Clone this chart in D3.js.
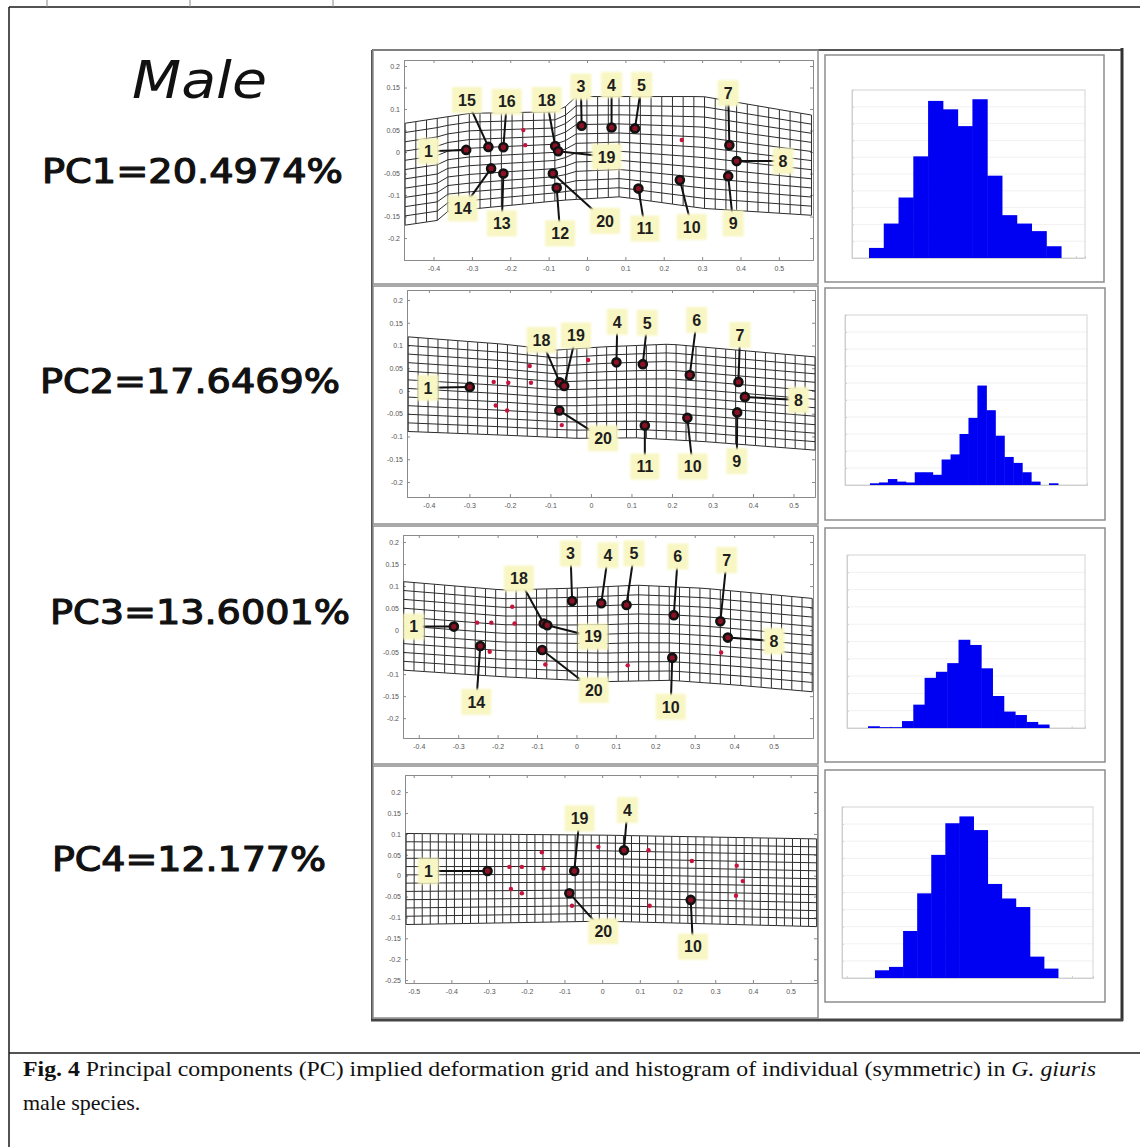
<!DOCTYPE html>
<html>
<head>
<meta charset="utf-8">
<script src="https://cdn.jsdelivr.net/npm/d3@7"></script>
<style>
  html, body { margin: 0; padding: 0; background: #fff; }
  svg { display: block; }
</style>
</head>
<body>
<div id="container"></div>
<script>
const WIDTH = 1140, HEIGHT = 1147;

const TITLE = "Male";
const PC_LABELS = ["PC1=20.4974%", "PC2=17.6469%", "PC3=13.6001%", "PC4=12.177%"];

// axis ticks of the deformation grid panels
const GRID_X_TICKS = [
  [-0.4, -0.3, -0.2, -0.1, 0, 0.1, 0.2, 0.3, 0.4, 0.5],
  [-0.4, -0.3, -0.2, -0.1, 0, 0.1, 0.2, 0.3, 0.4, 0.5],
  [-0.4, -0.3, -0.2, -0.1, 0, 0.1, 0.2, 0.3, 0.4, 0.5],
  [-0.5, -0.4, -0.3, -0.2, -0.1, 0, 0.1, 0.2, 0.3, 0.4, 0.5]
];
const GRID_Y_TICKS = [
  [0.2, 0.15, 0.1, 0.05, 0, -0.05, -0.1, -0.15, -0.2],
  [0.2, 0.15, 0.1, 0.05, 0, -0.05, -0.1, -0.15, -0.2],
  [0.2, 0.15, 0.1, 0.05, 0, -0.05, -0.1, -0.15, -0.2],
  [0.2, 0.15, 0.1, 0.05, 0, -0.05, -0.1, -0.15, -0.2, -0.25]
];

// outline of each warped grid: [x, y] along top and bottom edge
const PC1_TOP = [[-0.474, 0.067], [-0.305, 0.090], [-0.062, 0.094], [-0.044, 0.129], [0.303, 0.129], [0.585, 0.086]];
const PC1_BOTTOM = [[-0.474, -0.170], [-0.383, -0.158], [-0.375, -0.139], [-0.062, -0.112], [0.086, -0.104], [0.303, -0.131], [0.585, -0.147]];
const PC2_TOP = [[-0.451, 0.119], [-0.217, 0.103], [-0.085, 0.090], [0.030, 0.097], [0.195, 0.103], [0.360, 0.090], [0.553, 0.075]];
const PC2_BOTTOM = [[-0.451, -0.089], [-0.217, -0.097], [-0.035, -0.104], [0.113, -0.103], [0.277, -0.111], [0.553, -0.130]];
const PC3_TOP = [[-0.438, 0.110], [-0.185, 0.091], [-0.015, 0.095], [0.154, 0.102], [0.323, 0.095], [0.598, 0.072]];
const PC3_BOTTOM = [[-0.438, -0.091], [-0.185, -0.106], [0.069, -0.117], [0.239, -0.114], [0.408, -0.125], [0.598, -0.140]];
const PC4_TOP = [[-0.520, 0.101], [0.003, 0.097], [0.569, 0.088]];
const PC4_BOTTOM = [[-0.520, -0.117], [0.003, -0.109], [0.569, -0.122]];

// labelled landmarks: position (x, y) and label position (lx, ly)
const PC1_MARKS = [
  {id: "1", x: -0.315, y: 0.005, lx: -0.413, ly: 0.002},
  {id: "15", x: -0.257, y: 0.012, lx: -0.313, ly: 0.121},
  {id: "16", x: -0.218, y: 0.011, lx: -0.209, ly: 0.117},
  {id: "18", x: -0.083, y: 0.014, lx: -0.105, ly: 0.121},
  {id: "19", x: -0.075, y: 0.002, lx: 0.051, ly: -0.011},
  {id: "3", x: -0.014, y: 0.061, lx: -0.016, ly: 0.152},
  {id: "4", x: 0.064, y: 0.057, lx: 0.064, ly: 0.156},
  {id: "5", x: 0.125, y: 0.055, lx: 0.142, ly: 0.156},
  {id: "7", x: 0.371, y: 0.016, lx: 0.368, ly: 0.137},
  {id: "8", x: 0.390, y: -0.021, lx: 0.511, ly: -0.021},
  {id: "9", x: 0.368, y: -0.056, lx: 0.381, ly: -0.166},
  {id: "10", x: 0.242, y: -0.065, lx: 0.273, ly: -0.174},
  {id: "11", x: 0.134, y: -0.085, lx: 0.151, ly: -0.178},
  {id: "20", x: -0.089, y: -0.050, lx: 0.047, ly: -0.160},
  {id: "12", x: -0.079, y: -0.083, lx: -0.070, ly: -0.189},
  {id: "13", x: -0.218, y: -0.050, lx: -0.222, ly: -0.166},
  {id: "14", x: -0.250, y: -0.038, lx: -0.324, ly: -0.131}
];
const PC2_MARKS = [
  {id: "1", x: -0.299, y: 0.009, lx: -0.402, ly: 0.007},
  {id: "18", x: -0.077, y: 0.019, lx: -0.122, ly: 0.112},
  {id: "19", x: -0.066, y: 0.011, lx: -0.037, ly: 0.122},
  {id: "4", x: 0.063, y: 0.063, lx: 0.065, ly: 0.152},
  {id: "5", x: 0.128, y: 0.059, lx: 0.139, ly: 0.150},
  {id: "6", x: 0.244, y: 0.035, lx: 0.261, ly: 0.156},
  {id: "7", x: 0.364, y: 0.020, lx: 0.368, ly: 0.123},
  {id: "8", x: 0.380, y: -0.013, lx: 0.512, ly: -0.020},
  {id: "9", x: 0.361, y: -0.047, lx: 0.360, ly: -0.154},
  {id: "10", x: 0.238, y: -0.059, lx: 0.251, ly: -0.166},
  {id: "11", x: 0.133, y: -0.076, lx: 0.133, ly: -0.166},
  {id: "20", x: -0.078, y: -0.043, lx: 0.030, ly: -0.104}
];
const PC3_MARKS = [
  {id: "1", x: -0.311, y: 0.008, lx: -0.413, ly: 0.008},
  {id: "14", x: -0.244, y: -0.036, lx: -0.254, ly: -0.163},
  {id: "18", x: -0.083, y: 0.015, lx: -0.146, ly: 0.117},
  {id: "19", x: -0.074, y: 0.011, lx: 0.042, ly: -0.015},
  {id: "20", x: -0.087, y: -0.045, lx: 0.044, ly: -0.136},
  {id: "3", x: -0.011, y: 0.066, lx: -0.015, ly: 0.174},
  {id: "4", x: 0.063, y: 0.061, lx: 0.080, ly: 0.170},
  {id: "5", x: 0.127, y: 0.057, lx: 0.146, ly: 0.174},
  {id: "6", x: 0.247, y: 0.034, lx: 0.257, ly: 0.167},
  {id: "7", x: 0.365, y: 0.020, lx: 0.381, ly: 0.159},
  {id: "8", x: 0.384, y: -0.017, lx: 0.501, ly: -0.025},
  {id: "10", x: 0.243, y: -0.063, lx: 0.239, ly: -0.174}
];
const PC4_MARKS = [
  {id: "1", x: -0.304, y: 0.011, lx: -0.461, ly: 0.011},
  {id: "19", x: -0.074, y: 0.011, lx: -0.060, ly: 0.137},
  {id: "4", x: 0.058, y: 0.061, lx: 0.067, ly: 0.157},
  {id: "20", x: -0.087, y: -0.042, lx: 0.003, ly: -0.133},
  {id: "10", x: 0.235, y: -0.058, lx: 0.241, ly: -0.170}
];

// small unlabelled (mean) landmarks
const PC1_DOTS = [[-0.166, 0.051], [-0.161, 0.016], [0.247, 0.028]];
const PC2_DOTS = [[-0.240, 0.020], [-0.204, 0.018], [-0.151, 0.055], [-0.148, 0.018], [-0.235, -0.032], [-0.207, -0.043], [-0.072, -0.075], [-0.007, 0.068]];
const PC3_DOTS = [[-0.252, 0.017], [-0.216, 0.017], [-0.163, 0.053], [-0.157, 0.015], [-0.220, -0.049], [-0.079, -0.078], [0.130, -0.080], [0.367, -0.051]];
const PC4_DOTS = [[-0.246, 0.021], [-0.213, 0.021], [-0.160, 0.056], [-0.156, 0.017], [-0.242, -0.032], [-0.213, -0.042], [-0.080, -0.072], [-0.010, 0.069], [0.123, 0.061], [0.126, -0.072], [0.238, 0.035], [0.357, 0.024], [0.373, -0.013], [0.355, -0.048]];

// histogram bin counts
const PC1_HIST = [1.2, 4.1, 7.2, 12.1, 18.7, 17.7, 15.7, 18.9, 9.8, 5.1, 4.1, 3.2, 1.4];
const PC2_HIST = [0.2, 0.3, 0.7, 0.4, 0.3, 1.5, 1.5, 1.2, 3.0, 3.6, 6.0, 7.9, 11.7, 8.8, 5.8, 3.3, 2.6, 1.5, 0.4, 0, 0.2];
const PC3_HIST = [0.2, 0.1, 0.1, 0.8, 2.7, 5.8, 6.5, 7.5, 10.2, 9.6, 6.9, 3.7, 1.9, 1.5, 0.7, 0.4];
const PC4_HIST = [0.9, 1.3, 5.5, 9.9, 14.4, 18.1, 18.9, 17.3, 11.0, 9.3, 8.3, 2.5, 1.1];

// layout of the four rows
var panels = [
  { top: PC1_TOP, bottom: PC1_BOTTOM, marks: PC1_MARKS, dots: PC1_DOTS, hist: PC1_HIST,
    cols: 38, rows: 11, plot: [404, 60, 813, 260], xDom: [-0.477, 0.589], yDom: [-0.251, 0.214],
    box: [373, 50, 818, 284], hplot: [852, 90, 1085, 258], hDom: [-1.15, 14.62], hbox: [825, 55, 1104, 282],
    label: [42, 183, 301] },
  { top: PC2_TOP, bottom: PC2_BOTTOM, marks: PC2_MARKS, dots: PC2_DOTS, hist: PC2_HIST,
    cols: 41, rows: 11, plot: [407, 290, 815, 497], xDom: [-0.454, 0.553], yDom: [-0.233, 0.222],
    box: [373, 286, 818, 524], hplot: [845, 315, 1087, 485], hDom: [-2.79, 24.24], hbox: [825, 288, 1105, 520],
    label: [40, 393, 300] },
  { top: PC3_TOP, bottom: PC3_BOTTOM, marks: PC3_MARKS, dots: PC3_DOTS, hist: PC3_HIST,
    cols: 40, rows: 10, plot: [403, 535, 813, 738], xDom: [-0.44, 0.60], yDom: [-0.245, 0.216],
    box: [373, 526, 818, 764], hplot: [847, 555, 1085, 728], hDom: [-1.86, 19.18], hbox: [825, 528, 1105, 762],
    label: [50, 624, 300] },
  { top: PC4_TOP, bottom: PC4_BOTTOM, marks: PC4_MARKS, dots: PC4_DOTS, hist: PC4_HIST,
    cols: 51, rows: 11, plot: [405, 775, 817, 983], xDom: [-0.523, 0.570], yDom: [-0.257, 0.241],
    box: [373, 766, 818, 1018], hplot: [842, 807, 1093, 978], hDom: [-2.34, 15.49], hbox: [825, 770, 1105, 1002],
    label: [52, 871, 274] }
];

var svg = d3.select("#container").append("svg")
    .attr("width", WIDTH)
    .attr("height", HEIGHT);

var defs = svg.append("defs");
defs.append("filter").attr("id", "soft")
    .attr("x", "-30%").attr("y", "-30%").attr("width", "160%").attr("height", "160%")
  .append("feGaussianBlur").attr("stdDeviation", 1.3);

// ---- table frame around the figure
var frame = svg.append("g").attr("stroke", "#1a1a1a").attr("stroke-width", 1.5);
frame.append("line").attr("x1", 9).attr("x2", WIDTH).attr("y1", 7).attr("y2", 7);
frame.append("line").attr("x1", 9).attr("x2", 9).attr("y1", 7).attr("y2", HEIGHT);
frame.append("line").attr("x1", 9).attr("x2", WIDTH).attr("y1", 1053).attr("y2", 1053);
[47, 190, 333].forEach(function(tx){
    frame.append("line").attr("x1", tx).attr("x2", tx).attr("y1", 0).attr("y2", 7)
	.attr("stroke", "#888").attr("stroke-width", 1);
});

// ---- left column text
svg.append("text")
    .attr("x", 132).attr("y", 98)
    .attr("font-family", "'Comic Sans MS','DejaVu Sans',sans-serif")
    .attr("font-style", "italic")
    .attr("font-size", 52)
    .attr("textLength", 135)
    .attr("lengthAdjust", "spacingAndGlyphs")
    .attr("fill", "#111")
    .text(TITLE);

panels.forEach(function(p, i){
    svg.append("text")
	.attr("x", p.label[0]).attr("y", p.label[1])
	.attr("font-family", "'Comic Sans MS','DejaVu Sans',sans-serif")
	.attr("font-size", 34)
	.attr("textLength", p.label[2])
	.attr("lengthAdjust", "spacingAndGlyphs")
	.attr("fill", "#111")
	.attr("stroke", "#111")
	.attr("stroke-width", 1.2)
	.attr("stroke-linejoin", "round")
	.text(PC_LABELS[i]);
});

// ---- inner picture frame
var inner = svg.append("g").attr("fill", "none");
inner.append("line").attr("x1", 372).attr("x2", 1122).attr("y1", 50).attr("y2", 50)
    .attr("stroke", "#555").attr("stroke-width", 2);
inner.append("line").attr("x1", 372).attr("x2", 372).attr("y1", 50).attr("y2", 1020)
    .attr("stroke", "#555").attr("stroke-width", 2);
inner.append("line").attr("x1", 1122).attr("x2", 1122).attr("y1", 48).attr("y2", 1021)
    .attr("stroke", "#333").attr("stroke-width", 3);
inner.append("line").attr("x1", 371).attr("x2", 1123).attr("y1", 1020).attr("y2", 1020)
    .attr("stroke", "#444").attr("stroke-width", 3);

var styleAxis = function( sel, labels )
{
    sel.select(".domain").attr("stroke", "#8a8a8a").attr("stroke-width", 1);
    sel.selectAll(".tick line").attr("stroke", "#8a8a8a");
    sel.selectAll(".tick text")
	.attr("fill", labels ? "#555" : "none")
	.attr("font-size", 7)
	.attr("font-family", "'Liberation Sans',Arial,sans-serif");
}

var draw_grid_panel = function( p, i )
{
    var g = svg.append("g").classed("grid-panel", true);

    g.append("rect")
	.attr("x", p.box[0]).attr("y", p.box[1])
	.attr("width", p.box[2] - p.box[0]).attr("height", p.box[3] - p.box[1])
	.attr("fill", "none").attr("stroke", "#8d8d8d").attr("stroke-width", 1.5);

    var x = d3.scaleLinear().domain(p.xDom).range([p.plot[0], p.plot[2]]);
    var y = d3.scaleLinear().domain(p.yDom).range([p.plot[3], p.plot[1]]);

    var fmt = function(d){ return String(d); };

    g.append("g").attr("transform", "translate(0," + p.plot[3] + ")")
	.call(d3.axisBottom(x).tickValues(GRID_X_TICKS[i]).tickSize(-3).tickPadding(6).tickFormat(fmt))
	.call(styleAxis, true);
    g.append("g").attr("transform", "translate(0," + p.plot[1] + ")")
	.call(d3.axisTop(x).tickValues(GRID_X_TICKS[i]).tickSize(-3).tickFormat(""))
	.call(styleAxis, false);
    g.append("g").attr("transform", "translate(" + p.plot[0] + ",0)")
	.call(d3.axisLeft(y).tickValues(GRID_Y_TICKS[i]).tickSize(-3).tickPadding(4).tickFormat(fmt))
	.call(styleAxis, true);
    g.append("g").attr("transform", "translate(" + p.plot[2] + ",0)")
	.call(d3.axisRight(y).tickValues(GRID_Y_TICKS[i]).tickSize(-3).tickFormat(""))
	.call(styleAxis, false);

    // warped grid between top and bottom outline
    var topY = d3.scaleLinear().domain(p.top.map(function(d){ return d[0]; }))
	.range(p.top.map(function(d){ return d[1]; }));
    var botY = d3.scaleLinear().domain(p.bottom.map(function(d){ return d[0]; }))
	.range(p.bottom.map(function(d){ return d[1]; }));
    var x0 = p.top[0][0], x1 = p.top[p.top.length - 1][0];
    var cols = d3.range(p.cols + 1).map(function(k){ return x0 + (x1 - x0) * k / p.cols; });

    var mesh = g.append("g").attr("stroke", "#2b2b2b").attr("stroke-width", 1).attr("fill", "none");
    mesh.selectAll("line.v")
	.data(cols)
	.enter()
	.append("line")
	.classed("v", true)
	.attr("x1", function(c){ return x(c); })
	.attr("x2", function(c){ return x(c); })
	.attr("y1", function(c){ return y(topY(c)); })
	.attr("y2", function(c){ return y(botY(c)); });

    var line = d3.line();
    mesh.selectAll("path.h")
	.data(d3.range(p.rows + 1))
	.enter()
	.append("path")
	.classed("h", true)
	.attr("d", function(k){
	    var t = k / p.rows;
	    return line(cols.map(function(c){
		return [x(c), y(topY(c) + (botY(c) - topY(c)) * t)];
	    }));
	});

    // mean landmarks
    g.selectAll("circle.dot")
	.data(p.dots)
	.enter()
	.append("circle")
	.classed("dot", true)
	.attr("cx", function(d){ return x(d[0]); })
	.attr("cy", function(d){ return y(d[1]); })
	.attr("r", 2.2)
	.attr("fill", "#c4143c");

    // leader lines
    g.selectAll("line.leader")
	.data(p.marks)
	.enter()
	.append("line")
	.classed("leader", true)
	.attr("x1", function(d){ return x(d.lx); })
	.attr("y1", function(d){ return y(d.ly); })
	.attr("x2", function(d){ return x(d.x); })
	.attr("y2", function(d){ return y(d.y); })
	.attr("stroke", "#111")
	.attr("stroke-width", 2);

    // label boxes
    var lbl = g.selectAll("g.lbl")
	.data(p.marks)
	.enter()
	.append("g")
	.classed("lbl", true)
	.attr("transform", function(d){ return "translate(" + x(d.lx) + "," + y(d.ly) + ")"; });

    lbl.append("rect").attr("fill", "#f8f6c2").attr("filter", "url(#soft)");
    var txt = lbl.append("text")
	.attr("text-anchor", "middle")
	.attr("dy", "0.36em")
	.attr("font-family", "'Liberation Sans',Arial,sans-serif")
	.attr("font-weight", "bold")
	.attr("font-size", 16)
	.attr("fill", "#1e1e1e")
	.text(function(d){ return d.id; });

    txt.each(function(){
	var bb = this.getBBox();
	d3.select(this.parentNode).select("rect")
	    .attr("x", -bb.width / 2 - 6)
	    .attr("y", -13)
	    .attr("width", bb.width + 12)
	    .attr("height", 26);
    });

    // landmarks
    g.selectAll("circle.lm")
	.data(p.marks)
	.enter()
	.append("circle")
	.classed("lm", true)
	.attr("cx", function(d){ return x(d.x); })
	.attr("cy", function(d){ return y(d.y); })
	.attr("r", 4)
	.attr("fill", "#8a1224")
	.attr("stroke", "#111")
	.attr("stroke-width", 2.6);
}

var draw_hist_panel = function( p )
{
    var g = svg.append("g").classed("hist-panel", true);

    g.append("rect")
	.attr("x", p.hbox[0]).attr("y", p.hbox[1])
	.attr("width", p.hbox[2] - p.hbox[0]).attr("height", p.hbox[3] - p.hbox[1])
	.attr("fill", "none").attr("stroke", "#8d8d8d").attr("stroke-width", 1.5);

    var x = d3.scaleLinear().domain(p.hDom).range([p.hplot[0], p.hplot[2]]);
    var y = d3.scaleLinear().domain([0, 20]).range([p.hplot[3], p.hplot[1]]);

    // faint grid
    var grid = g.append("g").attr("stroke", "#f1f1f1").attr("stroke-width", 1);
    grid.selectAll("line.gy")
	.data(d3.range(2, 20, 2))
	.enter()
	.append("line")
	.attr("x1", p.hplot[0]).attr("x2", p.hplot[2])
	.attr("y1", function(d){ return y(d); }).attr("y2", function(d){ return y(d); });

    g.append("rect")
	.attr("x", p.hplot[0]).attr("y", p.hplot[1])
	.attr("width", p.hplot[2] - p.hplot[0]).attr("height", p.hplot[3] - p.hplot[1])
	.attr("fill", "none").attr("stroke", "#d4d4d4").attr("stroke-width", 1);

    g.append("g").attr("transform", "translate(0," + p.hplot[3] + ")")
	.call(d3.axisBottom(x).ticks(8).tickSize(-2).tickFormat(""))
	.call(function(s){
	    s.select(".domain").attr("stroke", "#cfcfcf");
	    s.selectAll(".tick line").attr("stroke", "#cfcfcf");
	});
    g.append("g").attr("transform", "translate(" + p.hplot[0] + ",0)")
	.call(d3.axisLeft(y).ticks(10).tickSize(-2).tickFormat(""))
	.call(function(s){
	    s.select(".domain").attr("stroke", "#cfcfcf");
	    s.selectAll(".tick line").attr("stroke", "#cfcfcf");
	});

    g.selectAll("rect.bar")
	.data(p.hist)
	.enter()
	.append("rect")
	.classed("bar", true)
	.attr("x", function(_, k){ return x(k); })
	.attr("width", function(_, k){ return x(k + 1) - x(k) + 0.5; })
	.attr("y", function(d){ return y(d); })
	.attr("height", function(d){ return y(0) - y(d); })
	.attr("fill", "#0000f2");
}

panels.forEach(function(p, i){
    draw_grid_panel(p, i);
    draw_hist_panel(p);
});

// ---- caption
var capFont = "'Liberation Serif','Times New Roman',serif";
var cap = svg.append("text")
    .attr("x", 23).attr("y", 1076)
    .attr("font-family", capFont)
    .attr("font-size", 22)
    .attr("fill", "#111")
    .attr("textLength", 1073)
    .attr("lengthAdjust", "spacingAndGlyphs");
cap.append("tspan").attr("font-weight", "bold").text("Fig. 4");
cap.append("tspan").text(" Principal components (PC) implied deformation grid and histogram of individual (symmetric) in ");
cap.append("tspan").attr("font-style", "italic").text("G. giuris");

svg.append("text")
    .attr("x", 23).attr("y", 1110)
    .attr("font-family", capFont)
    .attr("font-size", 22)
    .attr("fill", "#111")
    .text("male species.");
</script>
</body>
</html>
